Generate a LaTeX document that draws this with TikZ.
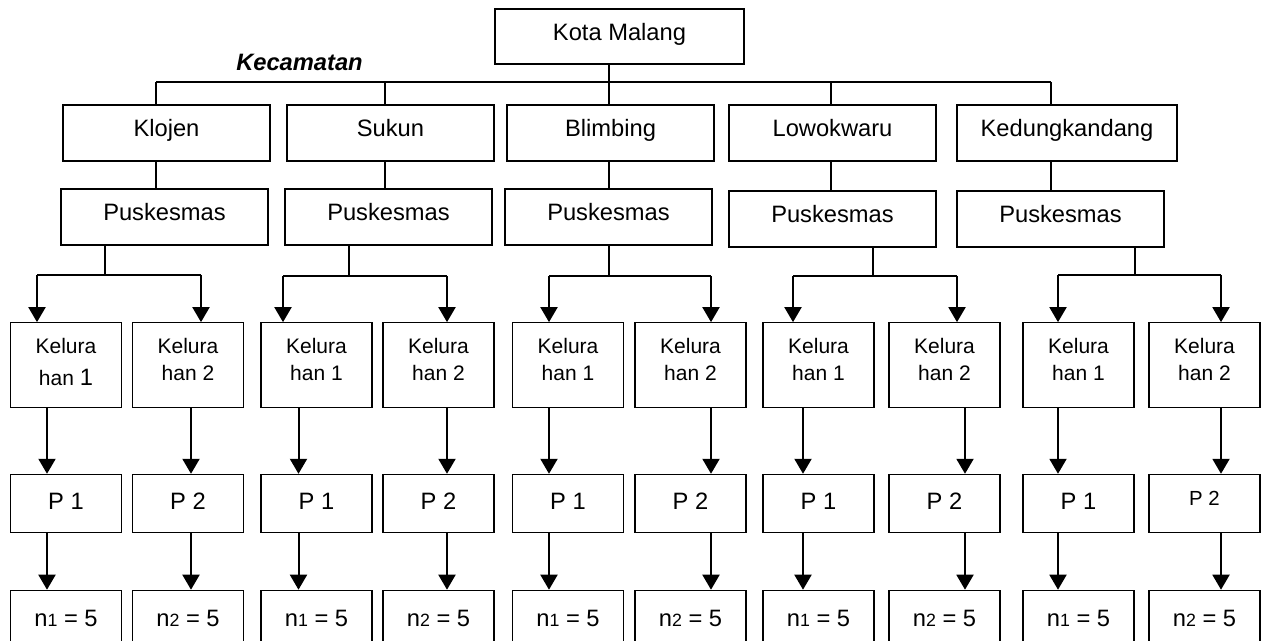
\documentclass[tikz,border=0pt]{standalone}
\usepackage{fontspec}
\setmainfont{Liberation Sans}
\usetikzlibrary{arrows.meta,calc}
\newcommand\fA{\fontsize{11.85pt}{14pt}\selectfont}
\newcommand\fK{\fontsize{10.5pt}{13.5pt}\selectfont}
\newcommand\fS{\fontsize{10.2pt}{12pt}\selectfont}
\newcommand\subd[1]{{\fontsize{8.9pt}{10pt}\selectfont #1}}
\begin{document}
\begin{tikzpicture}[x=0.5pt,y=-0.5pt,
  box/.style={draw, line width=0.6pt, inner sep=0pt, font=\fA},
  lv/.style={box, minimum width=103.5pt, minimum height=28pt, text height=9pt, text depth=5.3pt},
  kel/.style={draw, line width=0.6pt, inner sep=0pt, minimum width=55.5pt, minimum height=42.25pt},
  ktxt/.style={inner sep=0pt, font=\fK, align=center, anchor=north},
  pb/.style={box, minimum width=55.5pt, minimum height=29pt, text height=9pt, text depth=3.1pt},
  nb/.style={box, minimum width=55.5pt, minimum height=29pt, text height=9pt, text depth=1.6pt},
  conn/.style={line width=0.65pt},
  split/.style={line width=0.8pt},
  arr/.style={line width=1pt, -{Triangle[width=8.5pt,length=7.5pt]}},
]
\useasboundingbox (0,0) rectangle (1263,641);
\clip (0,0) rectangle (1263,641);
\fill[white] (0,0) rectangle (1263,641);

% top
\node[box, minimum width=124.5pt, minimum height=27.5pt, text height=9pt, text depth=4.5pt] (km) at (619.5,36.5) {Kota Malang};
\node[anchor=base, inner sep=0pt, font=\fA\bfseries\itshape] (kec) at (299.5,71) {Kecamatan};

% kecamatan and puskesmas
\foreach \g/\name/\cx/\w/\lx/\pcx/\py in {1/Klojen/166.5/103.5/156/164.5/217, 2/Sukun/390.5/103.5/385/388.5/217, 3/Blimbing/610.5/103.5/609/608.5/217, 4/Lowokwaru/832.5/103.5/831/832.5/219, 5/Kedungkandang/1067/110/1051/1060.5/219}{
  \node[lv, minimum width=\w pt] (d\g) at (\cx,133) {\name};
  \node[lv] (pk\g) at (\pcx,\py) {Puskesmas};
  \coordinate (b\g) at (\lx,82);
  \draw[conn] (b\g) -- (d\g.north -| b\g);
  \draw[conn] (d\g.south -| b\g) -- (pk\g.north -| b\g);
}
\draw[conn] (b1) -- (b5);
\draw[conn] (km.south -| b3) -- (b3);

% kelurahan, P and n boxes
\foreach \i/\cx/\tx/\mx/\n in {1/66/37/47/1, 2/188/201/191/2, 3/316.5/283/298.5/1, 4/438.5/447/447/2, 5/568/549/549/1, 6/690.5/711/711/2, 7/818.5/793/803/1, 8/944.5/957/965/2, 9/1078.5/1058/1058/1, 10/1204.5/1221/1221/2}{
  \node[kel] (k\i) at (\cx,365) {};
  \ifnum\i=10
    \node[pb, font=\fS, text height=9pt, text depth=7.4pt] (q\i) at (\cx,503.4) {P \n};
  \else
    \node[pb] (q\i) at (\cx,503.4) {P \n};
  \fi
  \node[nb] (n\i) at (\cx,619.3) {n\subd{\n} = 5};
  \coordinate (t\i) at (\tx,0);
  \coordinate (m\i) at (\mx,0);
  \draw[arr] (k\i.south -| m\i) -- (q\i.north -| m\i);
  \draw[arr] (q\i.south -| m\i) -- (n\i.north -| m\i);
}
\node[ktxt] (kt1) at ($(k1.north)+(0,15.3)$) {Kelura\\[2.5pt]han {\fA 1}};
\foreach \i/\n in {2/2,3/1,4/2,5/1,6/2,7/1,8/2,9/1,10/2}{
  \node[ktxt] (kt\i) at ($(k\i.north)+(0,15.3)$) {Kelura\\han \n};
}

% splits
\foreach \g/\px/\by/\a/\b in {1/105/275/1/2, 2/349/276/3/4, 3/609/276/5/6, 4/873/276/7/8, 5/1135/275/9/10}{
  \coordinate (s\g) at (\px,\by);
  \draw[conn] (pk\g.south -| s\g) -- (s\g);
  \draw[split] (t\a |- s\g) -- (t\b |- s\g);
  \draw[arr] (t\a |- s\g) -- (k\a.north -| t\a);
  \draw[arr] (t\b |- s\g) -- (k\b.north -| t\b);
}
\end{tikzpicture}
\end{document}
